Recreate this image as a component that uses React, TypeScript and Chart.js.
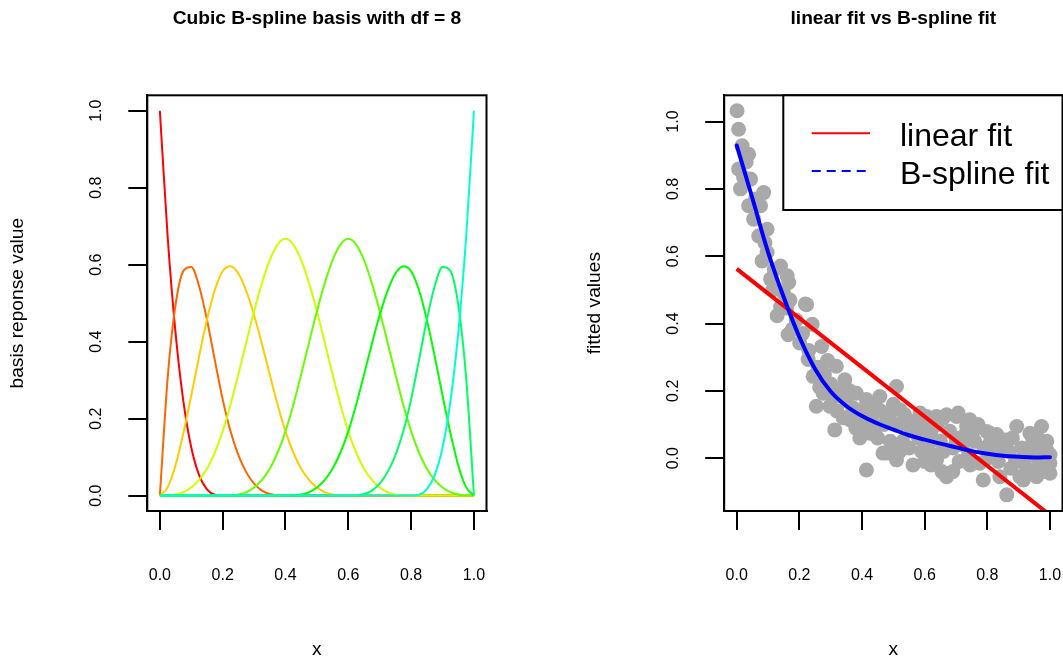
import React, { useEffect, useRef } from "react";
import { Chart, registerables } from "chart.js";

Chart.register(...registerables);

const FONT = "'Liberation Sans', Arial, Helvetica, sans-serif";

// ---------- Left panel: cubic B-spline basis (df = 8) ----------
const basisX = [
  0, 0.025, 0.05, 0.075, 0.1, 0.125, 0.15, 0.175, 0.2, 0.225,
  0.25, 0.275, 0.3, 0.325, 0.35, 0.375, 0.4, 0.425, 0.45, 0.475,
  0.5, 0.525, 0.55, 0.575, 0.6, 0.625, 0.65, 0.675, 0.7, 0.725,
  0.75, 0.775, 0.8, 0.825, 0.85, 0.875, 0.9, 0.925, 0.95, 0.975, 1,
];
const basis1 = [
  1, 0.67, 0.422, 0.244, 0.125, 0.053, 0.016, 0.002, 0, 0,
  0, 0, 0, 0, 0, 0, 0, 0, 0, 0,
  0, 0, 0, 0, 0, 0, 0, 0, 0, 0,
  0, 0, 0, 0, 0, 0, 0, 0, 0, 0, 0,
];
const basis2 = [
  0, 0.308, 0.496, 0.584, 0.594, 0.544, 0.457, 0.352, 0.25, 0.167,
  0.105, 0.061, 0.031, 0.013, 0.004, 0.0005, 0, 0, 0, 0,
  0, 0, 0, 0, 0, 0, 0, 0, 0, 0,
  0, 0, 0, 0, 0, 0, 0, 0, 0, 0, 0,
];
const basis3 = [
  0, 0.022, 0.079, 0.163, 0.26, 0.362, 0.457, 0.534, 0.583, 0.596,
  0.577, 0.532, 0.469, 0.394, 0.314, 0.236, 0.167, 0.112, 0.07, 0.041,
  0.021, 0.009, 0.003, 0.0003, 0, 0, 0, 0, 0, 0,
  0, 0, 0, 0, 0, 0, 0, 0, 0, 0, 0,
];
const basis4 = [
  0, 0.0003, 0.003, 0.009, 0.021, 0.041, 0.07, 0.112, 0.167, 0.236,
  0.315, 0.398, 0.479, 0.552, 0.612, 0.652, 0.667, 0.652, 0.612, 0.552,
  0.479, 0.398, 0.315, 0.236, 0.167, 0.112, 0.07, 0.041, 0.021, 0.009,
  0.003, 0.0003, 0, 0, 0, 0, 0, 0, 0, 0, 0,
];
const basis5 = [
  0, 0, 0, 0, 0, 0, 0, 0, 0, 0.0003,
  0.003, 0.009, 0.021, 0.041, 0.07, 0.112, 0.167, 0.236, 0.315, 0.398,
  0.479, 0.552, 0.612, 0.652, 0.667, 0.652, 0.612, 0.552, 0.479, 0.398,
  0.315, 0.236, 0.167, 0.112, 0.07, 0.041, 0.021, 0.009, 0.003, 0.0003, 0,
];
const basis6 = [
  0, 0, 0, 0, 0, 0, 0, 0, 0, 0,
  0, 0, 0, 0, 0, 0, 0, 0.0003, 0.003, 0.009,
  0.021, 0.041, 0.07, 0.112, 0.167, 0.236, 0.314, 0.394, 0.469, 0.532,
  0.577, 0.596, 0.583, 0.534, 0.457, 0.362, 0.26, 0.163, 0.079, 0.022, 0,
];
const basis7 = [
  0, 0, 0, 0, 0, 0, 0, 0, 0, 0,
  0, 0, 0, 0, 0, 0, 0, 0, 0, 0,
  0, 0, 0, 0, 0, 0.0005, 0.004, 0.013, 0.031, 0.061,
  0.105, 0.167, 0.25, 0.352, 0.457, 0.544, 0.594, 0.584, 0.496, 0.308, 0,
];
const basis8 = [
  0, 0, 0, 0, 0, 0, 0, 0, 0, 0,
  0, 0, 0, 0, 0, 0, 0, 0, 0, 0,
  0, 0, 0, 0, 0, 0, 0, 0, 0, 0,
  0, 0, 0, 0.002, 0.016, 0.053, 0.125, 0.244, 0.422, 0.67, 1,
];
const basisSeries = [basis1, basis2, basis3, basis4, basis5, basis6, basis7, basis8];
const basisColors = ["#FF0000", "#FF6600", "#FFCC00", "#CCFF00", "#66FF00", "#00FF00", "#00FF66", "#00FFCC"];

const tickValues = [0, 0.2, 0.4, 0.6, 0.8, 1.0];

// ---------- Right panel: data, linear fit, B-spline fit ----------
const pointX = [
  0.001, 0.006, 0.017, 0.038, 0.006, 0.022, 0.044, 0.03, 0.012, 0.038,
  0.076, 0.054, 0.06, 0.086, 0.097, 0.07, 0.09, 0.097, 0.081, 0.12,
  0.14, 0.108, 0.115, 0.161, 0.166, 0.15, 0.17, 0.14, 0.159, 0.129,
  0.219, 0.223, 0.177, 0.19, 0.164, 0.241, 0.201, 0.21, 0.271, 0.228,
  0.23, 0.29, 0.26, 0.318, 0.244, 0.28, 0.345, 0.3, 0.265, 0.276,
  0.254, 0.297, 0.33, 0.31, 0.36, 0.382, 0.35, 0.32, 0.37, 0.34,
  0.313, 0.361, 0.39, 0.38, 0.393, 0.4, 0.414, 0.41, 0.43, 0.425,
  0.44, 0.44, 0.457, 0.46, 0.47, 0.45, 0.467, 0.414, 0.48, 0.489,
  0.49, 0.483, 0.5, 0.51, 0.51, 0.52, 0.521, 0.52, 0.535, 0.53,
  0.54, 0.55, 0.553, 0.56, 0.563, 0.57, 0.58, 0.585, 0.59, 0.6,
  0.6, 0.606, 0.61, 0.62, 0.62, 0.63, 0.638, 0.638, 0.64, 0.65,
  0.655, 0.659, 0.66, 0.67, 0.67, 0.68, 0.69, 0.69, 0.7, 0.702,
  0.707, 0.71, 0.72, 0.73, 0.734, 0.734, 0.74, 0.744, 0.745, 0.755,
  0.76, 0.77, 0.776, 0.787, 0.79, 0.798, 0.8, 0.808, 0.81, 0.82,
  0.83, 0.835, 0.84, 0.845, 0.851, 0.862, 0.87, 0.875, 0.88, 0.89,
  0.894, 0.904, 0.915, 0.91, 0.92, 0.925, 0.936, 0.945, 0.94, 0.957,
  0.957, 0.96, 0.97, 0.973, 0.98, 0.985, 0.989, 0.99, 1.0, 1.0,
  1.0, 0.86, 0.96,
];
const pointY = [
  1.032, 0.977, 0.928, 0.903, 0.859, 0.834, 0.829, 0.88, 0.8, 0.75,
  0.75, 0.71, 0.77, 0.789, 0.68, 0.66, 0.64, 0.611, 0.586, 0.56,
  0.571, 0.532, 0.5, 0.542, 0.522, 0.49, 0.47, 0.45, 0.446, 0.423,
  0.458, 0.456, 0.383, 0.41, 0.367, 0.398, 0.342, 0.37, 0.332, 0.293,
  0.32, 0.29, 0.27, 0.273, 0.243, 0.25, 0.233, 0.22, 0.21, 0.193,
  0.154, 0.154, 0.2, 0.18, 0.2, 0.193, 0.17, 0.14, 0.15, 0.12,
  0.084, 0.114, 0.13, 0.09, 0.06, 0.1, 0.174, 0.15, 0.12, 0.074,
  0.09, 0.16, 0.183, 0.14, 0.1, 0.06, 0.015, -0.035, 0.13, 0.114,
  0.05, 0.015, 0.16, 0.213, -0.005, 0.1, 0.144, 0.02, 0.13, 0.05,
  0.12, 0.03, 0.094, 0.08, -0.02, 0.11, 0.06, 0.134, 0.02, 0.09,
  -0.01, 0.124, 0.04, 0.07, -0.02, 0.01, 0.124, -0.005, 0.1, 0.05,
  -0.04, 0.119, 0.02, 0.129, -0.055, 0.08, 0.03, -0.04, 0.06, 0.124,
  0.134, -0.01, 0.04, 0.07, 0.094, -0.005, 0.01, 0.114, -0.02, 0.08,
  0.05, 0.1, -0.015, -0.065, 0.03, 0.079, 0.0, 0.074, 0.05, 0.02,
  0.07, -0.01, -0.055, 0.03, 0.054, -0.109, 0.02, -0.03, 0.06, -0.01,
  0.094, -0.055, -0.065, 0.03, 0.0, -0.03, 0.074, 0.055, 0.02, -0.035,
  -0.055, 0.0, 0.03, 0.094, -0.02, -0.04, 0.025, 0.05, -0.015, -0.045,
  0.01, 0.054, 0.06,
];
const linearX = [0, 1];
const linearY = [0.5625, -0.169];
const splineX = [0, 0.05, 0.1, 0.15, 0.2, 0.25, 0.3, 0.35, 0.4, 0.45, 0.5, 0.55, 0.6, 0.65, 0.7, 0.75, 0.8, 0.85, 0.9, 0.95, 1];
const splineY = [0.929, 0.772, 0.612, 0.478, 0.36, 0.265, 0.198, 0.155, 0.125, 0.103, 0.085, 0.068, 0.055, 0.043, 0.032, 0.021, 0.013, 0.007, 0.004, 0.002, 0.003];

// ---------- layout constants (pixels) ----------
const H = 662;
const PLOT_TOP = 95.3;
const PLOT_BOTTOM = 511;
const TITLE_SIZE = 19.2;
const TITLE_PAD_TOP = 7;
const LAB_SIZE = 19.2;
const AXIS_SIZE = 16;
const RIGHT_CANVAS_W = 577;

const boxPlugin = {
  id: "rBox",
  afterDraw(chart: any) {
    const { ctx, chartArea: a } = chart;
    ctx.save();
    ctx.strokeStyle = "#000";
    ctx.lineWidth = 2;
    ctx.strokeRect(a.left, a.top, a.right - a.left, a.bottom - a.top);
    ctx.restore();
  },
};

const legendPlugin = {
  id: "rLegend",
  afterDraw(chart: any, _args: any, opts: any) {
    if (!opts || !opts.display) return;
    const { ctx, chartArea } = chart;
    const left = opts.left;
    const top = chartArea.top;
    const right = chartArea.right;
    const bottom = opts.bottom;
    ctx.save();
    ctx.fillStyle = "#fff";
    ctx.fillRect(left, top, right - left, bottom - top);
    ctx.strokeStyle = "#000";
    ctx.lineWidth = 2;
    ctx.strokeRect(left, top, right - left, bottom - top);
    const items = chart.data.datasets.filter((d: any) => d.inLegend);
    items.forEach((d: any, i: number) => {
      const ly = opts.lineY0 + i * opts.rowGap;
      ctx.strokeStyle = d.borderColor;
      ctx.lineWidth = 2;
      ctx.setLineDash(d.legendDash || []);
      ctx.beginPath();
      ctx.moveTo(opts.lineX0, ly);
      ctx.lineTo(opts.lineX1, ly);
      ctx.stroke();
      ctx.setLineDash([]);
      ctx.fillStyle = "#000";
      ctx.font = `${opts.fontSize}px ${FONT}`;
      ctx.textAlign = "left";
      ctx.textBaseline = "alphabetic";
      ctx.fillText(d.label, opts.textX, opts.textY0 + i * opts.rowGap);
    });
    ctx.restore();
  },
};

function setTicks(s: any) {
  s.ticks = tickValues.map((v) => ({ value: v }));
}

const gridOpts = { display: true, drawOnChartArea: false, drawTicks: true, tickLength: 19, color: "#000", lineWidth: 2 };
const borderOpts = { display: true, color: "#000", width: 2 };

function xScale() {
  return {
    type: "linear",
    position: "bottom",
    min: -0.04,
    max: 1.04,
    afterBuildTicks: setTicks,
    afterFit: (s: any) => {
      s.height = H - PLOT_BOTTOM;
    },
    grid: gridOpts,
    border: borderOpts,
    ticks: {
      autoSkip: false,
      minRotation: 0,
      maxRotation: 0,
      padding: 36.4,
      color: "#000",
      font: { size: AXIS_SIZE, family: FONT },
      callback: (v: any) => Number(v).toFixed(1),
    },
    title: { display: true, text: "x", color: "#000", font: { size: LAB_SIZE, family: FONT }, padding: { top: 0, bottom: 0.5 } },
  };
}

function yScale(min: number, max: number, text: string, width: number, titlePad: number) {
  return {
    type: "linear",
    position: "left",
    min,
    max,
    afterBuildTicks: setTicks,
    afterFit: (s: any) => {
      s.width = width;
    },
    grid: gridOpts,
    border: borderOpts,
    ticks: {
      autoSkip: false,
      minRotation: 90,
      maxRotation: 90,
      crossAlign: "center",
      padding: 20.4,
      color: "#000",
      font: { size: AXIS_SIZE, family: FONT },
      callback: (v: any) => Number(v).toFixed(1),
    },
    title: { display: true, text, color: "#000", font: { size: LAB_SIZE, family: FONT }, padding: { top: titlePad, bottom: 0 } },
  };
}

function titleOpts(text: string) {
  return {
    display: true,
    text,
    color: "#000",
    fullSize: false,
    font: { size: TITLE_SIZE, weight: "bold", family: FONT, lineHeight: 1.2 },
    padding: { top: TITLE_PAD_TOP, bottom: PLOT_TOP - TITLE_PAD_TOP - TITLE_SIZE * 1.2 },
  };
}

export default function App() {
  const leftRef = useRef<HTMLCanvasElement>(null);
  const rightRef = useRef<HTMLCanvasElement>(null);

  useEffect(() => {
    Chart.defaults.font.family = FONT;
    Chart.defaults.color = "#000";

    const leftChart = new Chart(leftRef.current as HTMLCanvasElement, {
      type: "line",
      data: {
        datasets: basisSeries.map((ys, i) => ({
          label: `basis ${i + 1}`,
          data: basisX.map((x, j) => ({ x, y: ys[j] })),
          borderColor: basisColors[i],
          backgroundColor: basisColors[i],
          borderWidth: 2,
          pointRadius: 0,
          fill: false,
          cubicInterpolationMode: "monotone",
          order: basisSeries.length - 1 - i,
        })),
      },
      options: {
        responsive: false,
        animation: false,
        layout: { padding: { left: 0, right: 531 - 486.5, top: 0, bottom: 0 } },
        plugins: {
          legend: { display: false },
          tooltip: { enabled: false },
          title: titleOpts("Cubic B-spline basis with df = 8"),
        },
        scales: {
          x: xScale(),
          y: yScale(-0.04, 1.04, "basis reponse value", 147.3, 6.5),
        },
      } as any,
      plugins: [boxPlugin],
    } as any);

    const rightChart = new Chart(rightRef.current as HTMLCanvasElement, {
      type: "line",
      data: {
        datasets: [
          {
            label: "data",
            data: pointX.map((x, i) => ({ x, y: pointY[i] })),
            showLine: false,
            pointRadius: 7.5,
            pointHoverRadius: 7.5,
            pointBackgroundColor: "#A9A9A9",
            pointBorderWidth: 0,
            pointBorderColor: "rgba(0,0,0,0)",
            borderColor: "#A9A9A9",
            order: 3,
          },
          {
            label: "linear fit",
            data: linearX.map((x, i) => ({ x, y: linearY[i] })),
            borderColor: "#FF0000",
            borderWidth: 4,
            pointRadius: 0,
            fill: false,
            clip: 0,
            order: 2,
            inLegend: true,
          },
          {
            label: "B-spline fit",
            data: splineX.map((x, i) => ({ x, y: splineY[i] })),
            borderColor: "#0000FF",
            borderWidth: 4,
            borderCapStyle: "round",
            pointRadius: 0,
            fill: false,
            tension: 0.4,
            order: 1,
            inLegend: true,
            legendDash: [9, 6],
          },
        ],
      },
      options: {
        responsive: false,
        animation: false,
        layout: { padding: { left: 0, right: RIGHT_CANVAS_W - 531.5, top: 0, bottom: 0 } },
        plugins: {
          legend: { display: false },
          tooltip: { enabled: false },
          title: titleOpts("linear fit vs B-spline fit"),
          rLegend: {
            display: true,
            left: 252.3,
            bottom: 210,
            lineX0: 280.7,
            lineX1: 339,
            lineY0: 133.3,
            textX: 369,
            textY0: 146,
            rowGap: 37.8,
            fontSize: 32,
          },
        },
        scales: {
          x: xScale(),
          y: yScale(-0.157, 1.078, "fitted values", 193.2, 52.5),
        },
      } as any,
      plugins: [boxPlugin, legendPlugin],
    } as any);

    return () => {
      leftChart.destroy();
      rightChart.destroy();
    };
  }, []);

  return (
    <div
      style={{
        position: "fixed",
        left: 0,
        top: 0,
        width: 1063,
        height: H,
        overflow: "hidden",
        background: "#fff",
      }}
    >
      <div style={{ position: "absolute", left: 0, top: 0, width: 531, height: H }}>
        <canvas ref={leftRef} width={531} height={H} />
      </div>
      <div style={{ position: "absolute", left: 531, top: 0, width: RIGHT_CANVAS_W, height: H }}>
        <canvas ref={rightRef} width={RIGHT_CANVAS_W} height={H} />
      </div>
    </div>
  );
}
